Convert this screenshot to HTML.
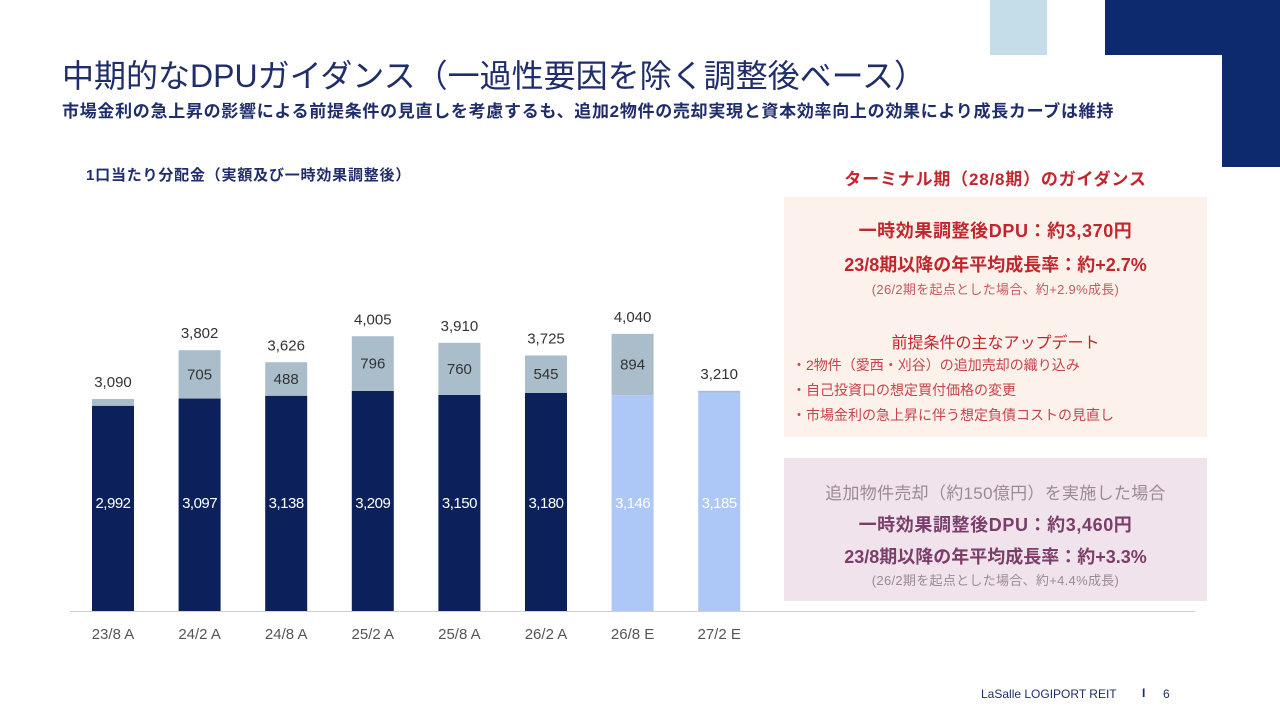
<!DOCTYPE html>
<html><head><meta charset="utf-8"><style>
body{margin:0;width:1280px;height:720px;position:relative;background:#fff;font-family:"Liberation Sans","Noto Sans CJK JP",sans-serif;overflow:hidden}
.a{position:absolute;white-space:nowrap}
.c{text-align:center}
</style></head><body>
<div class="a" style="left:990px;top:0;width:57px;height:55px;background:#c5dde8"></div>
<div class="a" style="left:1105px;top:0;width:175px;height:55px;background:#0d2a6e"></div>
<div class="a" style="left:1222px;top:0;width:58px;height:167px;background:#0d2a6e"></div>
<div class="a" style="left:62px;top:51px;font-size:32px;color:#1f2d6b">中期的なDPUガイダンス（一過性要因を除く調整後ベース）</div>
<div class="a" style="left:62px;top:97px;font-size:17px;letter-spacing:0.7px;font-weight:bold;color:#1f2d6b">市場金利の急上昇の影響による前提条件の見直しを考慮するも、追加2物件の売却実現と資本効率向上の効果により成長カーブは維持</div>
<div class="a" style="left:86px;top:164px;font-size:15px;letter-spacing:0.8px;font-weight:bold;color:#1f2d6b">1口当たり分配金（実額及び一時効果調整後）</div>
<svg class="a" style="left:0;top:0" width="780" height="720" id="chart"></svg>
<div class="a c" style="left:784px;width:423px;top:165px;font-size:17px;letter-spacing:0.8px;font-weight:bold;color:#c0262c">ターミナル期（28/8期）のガイダンス</div>
<div class="a" style="left:784px;top:197px;width:423px;height:240px;background:#fdf1ec;color:#c0262c">
 <div class="a c" style="left:0;width:423px;top:20px;font-size:18px;letter-spacing:0.6px;font-weight:bold">一時効果調整後DPU：約3,370円</div>
 <div class="a c" style="left:0;width:423px;top:54px;font-size:18px;font-weight:bold">23/8期以降の年平均成長率：約+2.7%</div>
 <div class="a c" style="left:0;width:423px;top:82px;font-size:13px;letter-spacing:0.3px;color:#c65a5e">(26/2期を起点とした場合、約+2.9%成長)</div>
 <div class="a c" style="left:0;width:423px;top:132px;font-size:16px">前提条件の主なアップデート</div>
 <div class="a" style="left:8px;top:156px;font-size:14px;line-height:25px;color:#c8434a">・2物件（愛西・刈谷）の追加売却の織り込み<br>・自己投資口の想定買付価格の変更<br>・市場金利の急上昇に伴う想定負債コストの見直し</div>
</div>
<div class="a" style="left:784px;top:458px;width:423px;height:143px;background:#f1e3ec;color:#7b3d6a">
 <div class="a c" style="left:0;width:423px;top:21px;font-size:17px;letter-spacing:0.3px;color:#9a8a94">追加物件売却（約150億円）を実施した場合</div>
 <div class="a c" style="left:0;width:423px;top:53px;font-size:18px;letter-spacing:0.6px;font-weight:bold">一時効果調整後DPU：約3,460円</div>
 <div class="a c" style="left:0;width:423px;top:85px;font-size:18px;font-weight:bold">23/8期以降の年平均成長率：約+3.3%</div>
 <div class="a c" style="left:0;width:423px;top:112px;font-size:13px;letter-spacing:0.3px;color:#9a8a94">(26/2期を起点とした場合、約+4.4%成長)</div>
</div>
<div class="a" style="left:981px;top:687px;font-size:12px;color:#1f2d6b">LaSalle LOGIPORT REIT</div>
<div class="a" style="left:1142px;top:686px;font-size:12px;font-weight:bold;color:#1f2d6b">I</div>
<div class="a" style="left:1163px;top:687px;font-size:12px;color:#1f2d6b">6</div>
<script>
const categories=["23/8 A","24/2 A","24/8 A","25/2 A","25/8 A","26/2 A","26/8 E","27/2 E"];
const baseValues=[2992,3097,3138,3209,3150,3180,3146,3185];
const oneTimeValues=[98,705,488,796,760,545,894,25];
const totalValues=[3090,3802,3626,4005,3910,3725,4040,3210];
const showIncrement=[false,true,true,true,true,true,true,false];
const isEstimate=[false,false,false,false,false,false,true,true];
const NS="http://www.w3.org/2000/svg";
const svg=document.getElementById('chart');
const baseY=611,scale=0.0686,x0=113,step=86.6,bw=42;
const xPos=i=>x0+i*step;
const yPos=v=>baseY-v*scale;
function mk(t,a){const e=document.createElementNS(NS,t);for(const k in a)e.setAttribute(k,a[k]);svg.appendChild(e);return e;}
const ax=mk('line',{x1:70,x2:780,y1:baseY+0.5,y2:baseY+0.5,stroke:'#d0d0d0','stroke-width':1});


categories.forEach((c,i)=>{
 const x=xPos(i);
 const b=mk('rect',{x:x-bw/2,y:yPos(baseValues[i]),width:bw,height:baseValues[i]*scale,fill:isEstimate[i]?'#adc8f7':'#0c215c'});
 
 
 const top=yPos(baseValues[i]+oneTimeValues[i]);
 const s=mk('rect',{x:x-bw/2,y:top,width:bw,height:oneTimeValues[i]*scale,fill:'#a9bdcb'});
 
 
 const t=mk('text',{x:x,y:yPos(totalValues[i])-12,'text-anchor':'middle','font-size':15,fill:'#333'});t.textContent=totalValues[i].toLocaleString('en-US');
 
 
 if(showIncrement[i]){const m=mk('text',{x:x,y:(top+yPos(baseValues[i]))/2+5,'text-anchor':'middle','font-size':15,fill:'#333'});m.textContent=oneTimeValues[i];
  
  }
 const bl=mk('text',{x:x,y:508,'text-anchor':'middle','font-size':15,fill:'#fff','letter-spacing':'-0.5'});bl.textContent=baseValues[i].toLocaleString('en-US');
 
 
 const cl=mk('text',{x:x,y:639,'text-anchor':'middle','font-size':15,fill:'#555'});cl.textContent=c;
 
 
});
</script>
<div class="a" style="left:780px;top:611px;width:415px;height:1px;background:#d0d0d0"></div>
</body></html>
